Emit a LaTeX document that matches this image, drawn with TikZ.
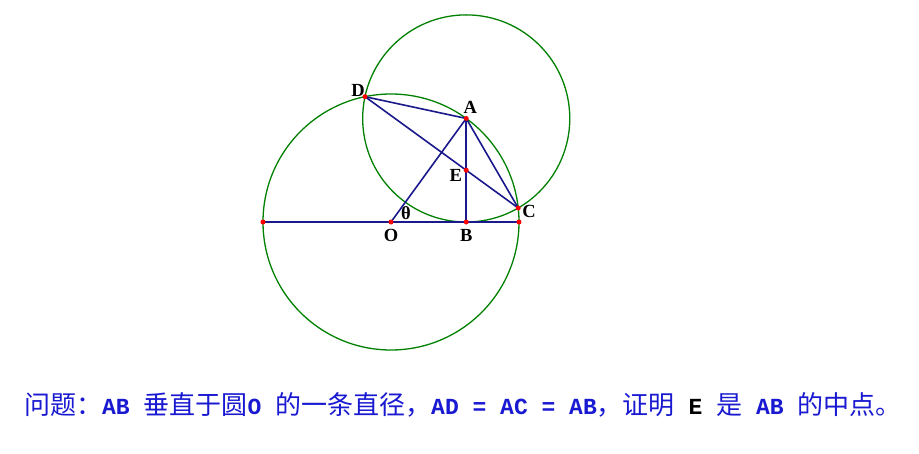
\documentclass[tikz,border=0pt]{standalone}
\usepackage{fontspec}
\setmainfont{Liberation Serif}
\setmonofont{Liberation Mono}
\newfontfamily\cjk{Noto Sans CJK SC}
\usetikzlibrary{calc}
\definecolor{navy}{RGB}{25,25,140}
\definecolor{ringgreen}{RGB}{0,128,0}
\definecolor{txtblue}{RGB}{25,25,210}
\tikzstyle{dot} = [circle, fill=red, inner sep=0pt, minimum size=5pt]
\tikzstyle{seg} = [navy, line width=1.6pt]
\tikzstyle{ring} = [ringgreen, line width=1.3pt]
\tikzstyle{lbl} = [inner sep=1pt, font=\fontsize{18.5}{18.5}\selectfont\bfseries]
\newcommand{\mono}[1]{{\fontsize{23}{23}\selectfont\ttfamily\bfseries #1}}

\begin{document}
\begin{tikzpicture}[x=1pt,y=1pt]
\useasboundingbox (-391,-231) rectangle (528,222);
\def\rad{128}   %radius of circle O
\def\th{54}     %angle AOB
\pgfmathsetmacro{\ra}{\rad*sin(\th)}              %radius of circle A
\pgfmathsetmacro{\dl}{acos((1+cos(\th)^2)/2)}     %half of angle DOC
% points
\coordinate (o) at (0,0);
\coordinate (l) at (-\rad,0);
\coordinate (r) at (\rad,0);
\coordinate (a) at (\th:\rad);
\coordinate (b) at ($(o)!(a)!(r)$);
\coordinate (d) at ({\th+\dl}:\rad);
\coordinate (c) at ({\th-\dl}:\rad);
\coordinate (e) at ($(a)!0.5!(b)$);
% circles
\draw[ring] (o) circle (\rad);
\draw[ring] (a) circle (\ra);
% segments
\draw[seg] (l) -- (r);
\foreach \from/\to in {o/a, a/b, d/a, a/c, d/c}
{\draw[seg] (\from) -- (\to);}
\foreach \p in {l,o,b,r,a,d,c,e}
{\node[dot] at (\p) {};}
% labels
\node[lbl, above left=-1pt] (dlbl) at (d) {D};
\node[lbl, above=4pt, xshift=4pt] (albl) at (a) {A};
\node[lbl, left=3pt, yshift=-5pt] (elbl) at (e) {E};
\node[lbl, right=3pt, yshift=-3pt] (clbl) at (c) {C};
\node[lbl, below=6pt] (olbl) at (o) {O};
\node[lbl, below=6pt] (blbl) at (b) {B};
\node[lbl] (thlbl) at (15,9) {θ};
% question
\node[anchor=west, inner sep=0pt, text=txtblue, font=\fontsize{26}{26}\selectfont\cjk] (q) at (-367,-183)
{问题：\mono{AB }垂直于圆\mono{O }的一条直径，\mono{AD = AC = AB}，证明\mono{ \textcolor{black}{E} }是\mono{ AB }的中点。};
\end{tikzpicture}
\end{document}
